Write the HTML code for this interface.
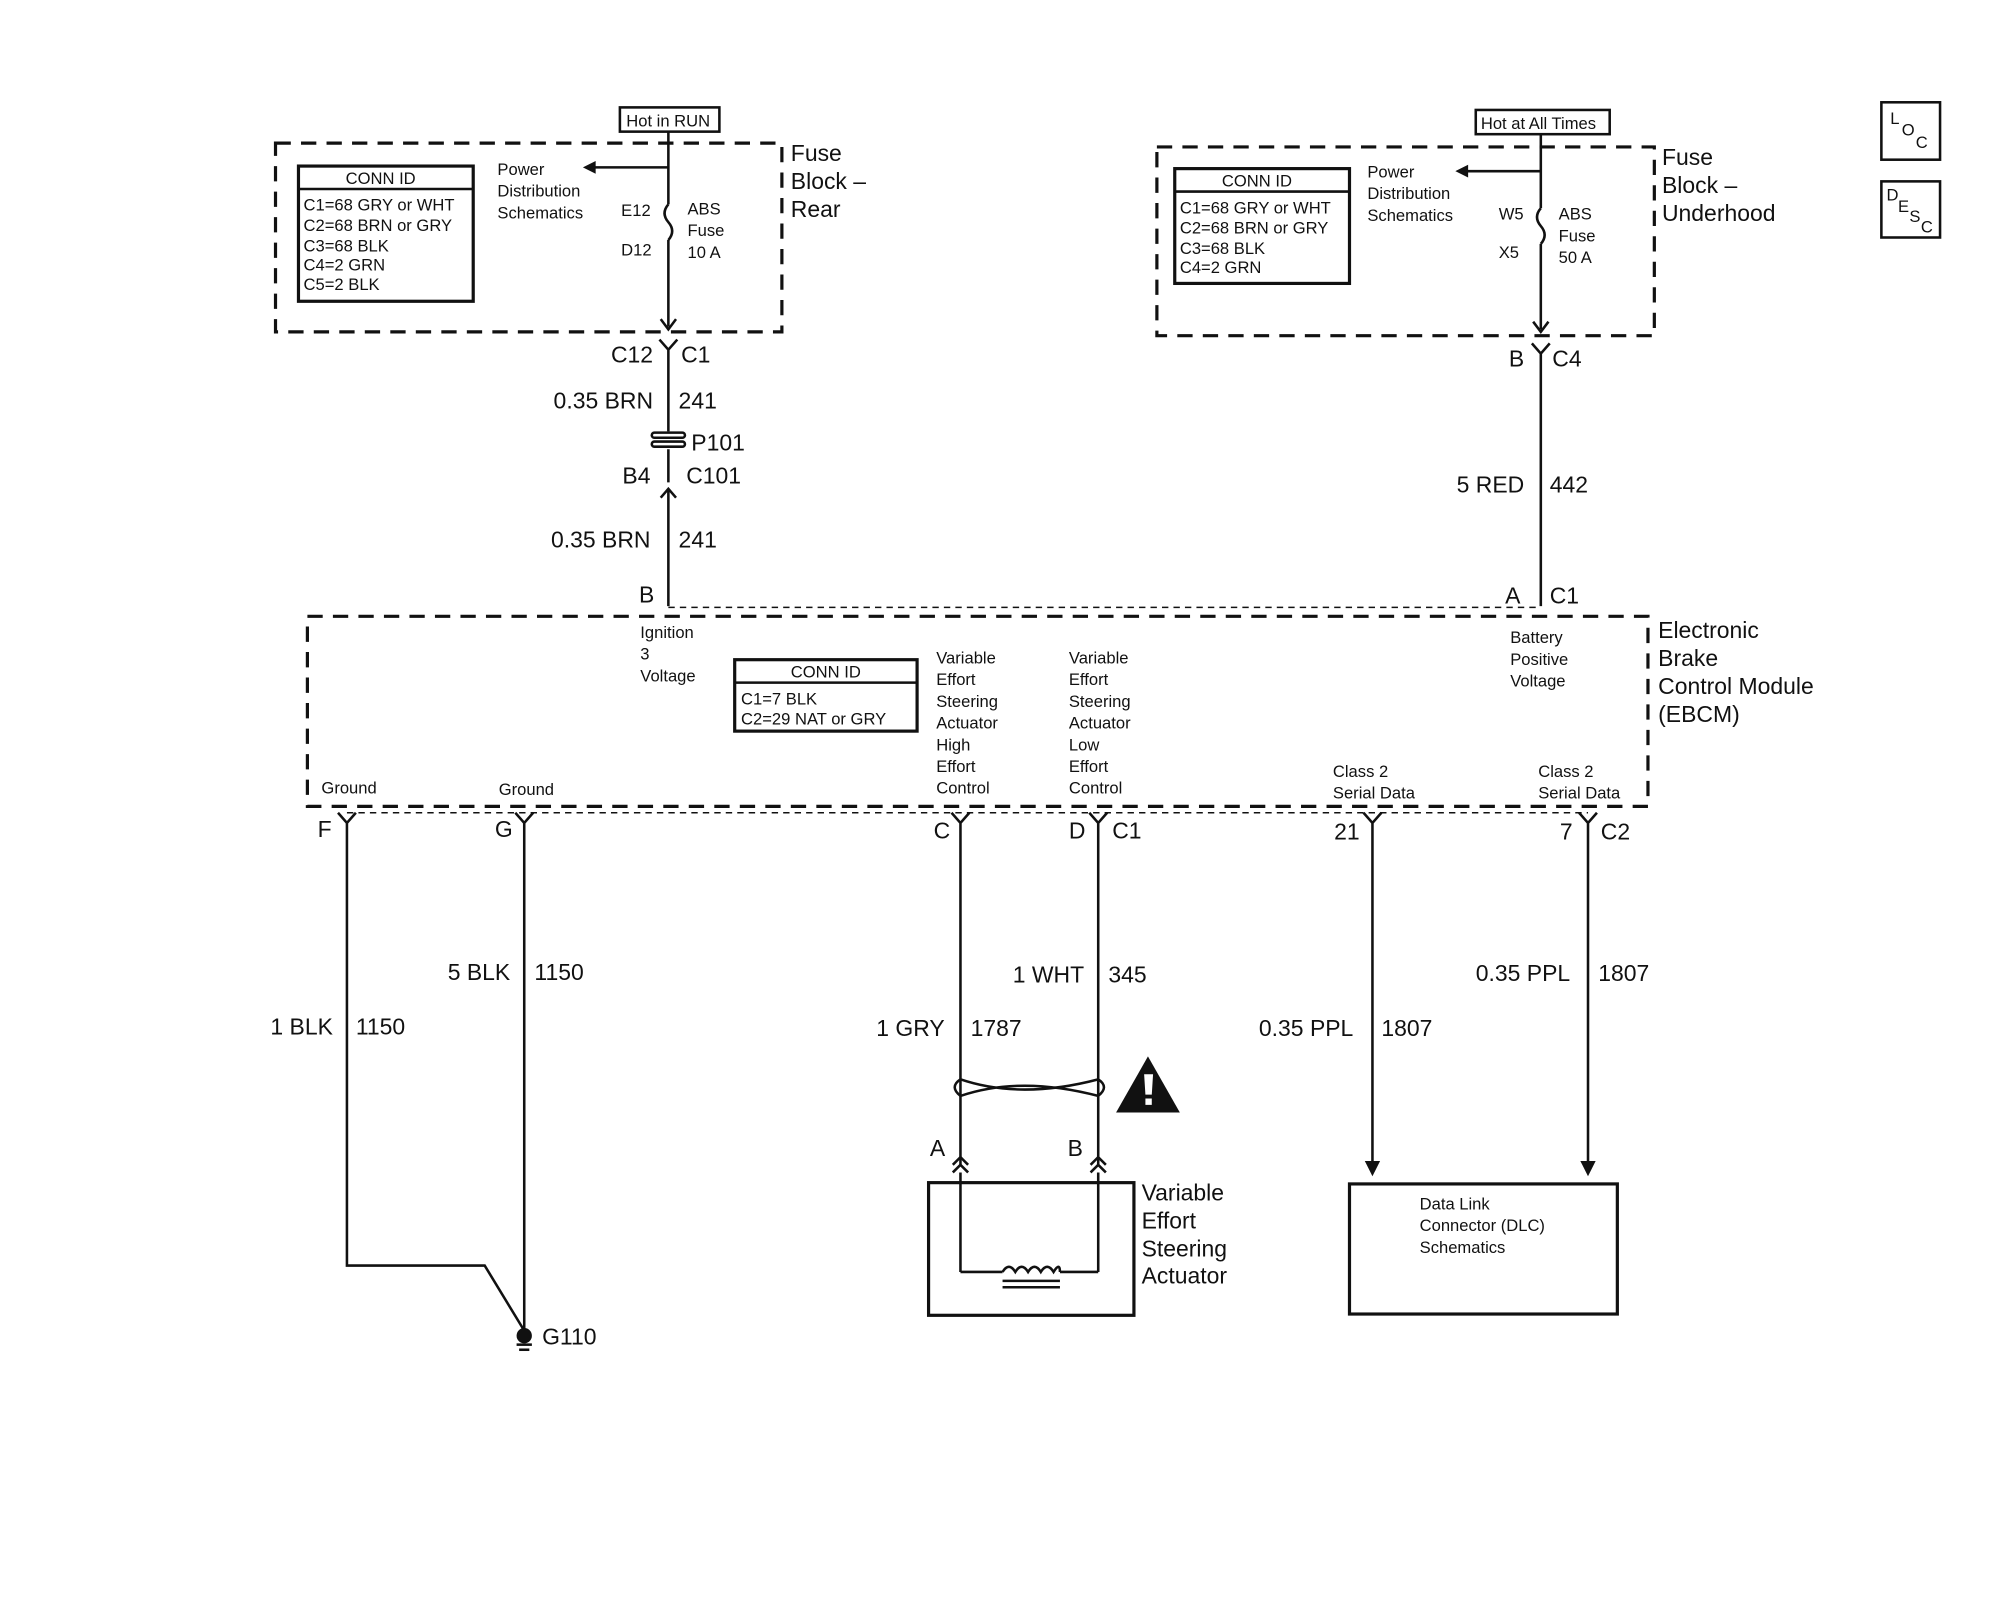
<!DOCTYPE html>
<html><head><meta charset="utf-8"><style>
html,body{margin:0;padding:0;background:#fff}
svg{display:block}
text{font-family:"Liberation Sans",Arial,sans-serif;fill:#111}
.s{font-size:13px}
.m{font-size:18px}
.l{font-size:19px}
</style></head><body>
<svg width="2000" height="1600" viewBox="0 0 1568 1254" xmlns="http://www.w3.org/2000/svg">
<g fill="none" stroke="#111" stroke-width="2">
<rect x="216" y="112" width="397" height="148" stroke-dasharray="12,8" stroke-width="2.5"/>
<rect x="907" y="115" width="390" height="148" stroke-dasharray="12,8" stroke-width="2.5"/>
<rect x="241" y="483" width="1051" height="149" stroke-dasharray="12,8" stroke-width="2.5"/>
<line x1="524" y1="476" x2="1208" y2="476" stroke-dasharray="5,4" stroke-width="1.2"/>
<line x1="272" y1="637" x2="1245" y2="637" stroke-dasharray="5,4" stroke-width="1.2"/>
<rect x="486" y="84" width="78" height="19"/>
<rect x="1157" y="86" width="105" height="19"/>
<rect x="234" y="130" width="137" height="106" stroke-width="2.5"/>
<line x1="234" y1="148" x2="371" y2="148"/>
<rect x="921" y="132" width="137" height="90" stroke-width="2.5"/>
<line x1="921" y1="150" x2="1058" y2="150"/>
<rect x="576" y="517" width="143" height="56" stroke-width="2.5"/>
<line x1="576" y1="535" x2="719" y2="535"/>
<line x1="524" y1="103" x2="524" y2="160"/>
<path d="M524 160 q-6 7 0 14 q6 7 0 14"/>
<line x1="524" y1="188" x2="524" y2="256"/>
<line x1="524" y1="131" x2="466" y2="131"/>
<path d="M518 250 l6 8 l6 -8"/>
<path d="M517 266 l7 8 l7 -8 M524 274 v64 M524 352 v26"/>
<rect x="511" y="339" width="26" height="4" rx="2"/><rect x="511" y="346" width="26" height="4" rx="2"/>
<path d="M518 390 l6 -7 l6 7 M524 383 v92"/>
<line x1="1208" y1="105" x2="1208" y2="163"/>
<path d="M1208 163 q-6 7 0 14 q6 7 0 14"/>
<line x1="1208" y1="191" x2="1208" y2="258"/>
<line x1="1208" y1="134" x2="1150" y2="134"/>
<path d="M1202 252 l6 8 l6 -8"/>
<path d="M1201 269 l7 8 l7 -8 M1208 277 v198"/>
<path d="M265 637 l7 8 l7 -8 M272 645 v347 h108 l31 51"/>
<path d="M404 637 l7 8 l7 -8 M411 645 v398"/>
<path d="M746 637 l7 8 l7 -8 M753 645 v268"/>
<path d="M854 637 l7 8 l7 -8 M861 645 v268"/>
<path d="M1069 637 l7 8 l7 -8 M1076 645 v265"/>
<path d="M1238 637 l7 8 l7 -8 M1245 645 v265"/>
<path d="M753 846 Q800 862 861 846 Q870 852 861 859 Q800 843 753 859 Q744 852 753 846 Z"/>
<path d="M747 913 l6 -6 l6 6 M747 919 l6 -6 l6 6 M855 913 l6 -6 l6 6 M855 919 l6 -6 l6 6"/>
<line x1="753" y1="919" x2="753" y2="997"/><line x1="861" y1="919" x2="861" y2="997"/>
<path d="M753 997 h33 M831 997 h30 M786 997 q5 -8 10 0 q5 -8 10 0 q5 -8 10 0 q5 -8 10 0 q5 -8 5 0"/>
<line x1="786" y1="1004" x2="831" y2="1004"/><line x1="786" y1="1009" x2="831" y2="1009"/>
<rect x="728" y="927" width="161" height="104" stroke-width="2.5"/>
<rect x="1058" y="928" width="210" height="102" stroke-width="2.5"/>
<line x1="405" y1="1054" x2="417" y2="1054"/><line x1="407" y1="1058" x2="415" y2="1058"/>
<rect x="1475" y="80" width="46" height="45"/>
<rect x="1475" y="142" width="46" height="44"/>
</g>
<g fill="#111">
<path d="M457 131 l10 -5 v10z"/><path d="M1141 134 l10 -5 v10z"/>
<path d="M1070 910 l6 12 l6 -12z"/><path d="M1239 910 l6 12 l6 -12z"/>
<circle cx="411" cy="1047" r="6"/>
<path d="M900 828 l25 44 h-50z"/>
</g>
<path d="M897 842 h7 l-1 16 h-5z M898 861 h5 v5 h-5z" fill="#fff"/>
<g class="s">
<text x="491" y="99">Hot in RUN</text>
<text x="1161" y="101">Hot at All Times</text>
<text x="271" y="144">CONN ID</text>
<text x="238" y="165">C1=68 GRY or WHT</text>
<text x="238" y="181">C2=68 BRN or GRY</text>
<text x="238" y="197">C3=68 BLK</text>
<text x="238" y="212">C4=2 GRN</text>
<text x="238" y="227">C5=2 BLK</text>
<text x="958" y="146">CONN ID</text>
<text x="925" y="167">C1=68 GRY or WHT</text>
<text x="925" y="183">C2=68 BRN or GRY</text>
<text x="925" y="199">C3=68 BLK</text>
<text x="925" y="214">C4=2 GRN</text>
<text x="620" y="531">CONN ID</text>
<text x="581" y="552">C1=7 BLK</text>
<text x="581" y="568">C2=29 NAT or GRY</text>
<text x="390" y="137">Power</text><text x="390" y="154">Distribution</text><text x="390" y="171">Schematics</text>
<text x="1072" y="139">Power</text><text x="1072" y="156">Distribution</text><text x="1072" y="173">Schematics</text>
<text x="487" y="169">E12</text><text x="487" y="200">D12</text>
<text x="539" y="168">ABS</text><text x="539" y="185">Fuse</text><text x="539" y="202">10 A</text>
<text x="1175" y="172">W5</text><text x="1175" y="202">X5</text>
<text x="1222" y="172">ABS</text><text x="1222" y="189">Fuse</text><text x="1222" y="206">50 A</text>
<text x="502" y="500">Ignition</text><text x="502" y="517">3</text><text x="502" y="534">Voltage</text>
<text x="1184" y="504">Battery</text><text x="1184" y="521">Positive</text><text x="1184" y="538">Voltage</text>
<text x="734" y="520">Variable</text><text x="734" y="537">Effort</text><text x="734" y="554">Steering</text><text x="734" y="571">Actuator</text><text x="734" y="588">High</text><text x="734" y="605">Effort</text><text x="734" y="622">Control</text>
<text x="838" y="520">Variable</text><text x="838" y="537">Effort</text><text x="838" y="554">Steering</text><text x="838" y="571">Actuator</text><text x="838" y="588">Low</text><text x="838" y="605">Effort</text><text x="838" y="622">Control</text>
<text x="252" y="622">Ground</text><text x="391" y="623">Ground</text>
<text x="1045" y="609">Class 2</text><text x="1045" y="626">Serial Data</text>
<text x="1206" y="609">Class 2</text><text x="1206" y="626">Serial Data</text>
<text x="1113" y="948">Data Link</text><text x="1113" y="965">Connector (DLC)</text><text x="1113" y="982">Schematics</text>
<text x="1482" y="97">L</text><text x="1491" y="106">O</text><text x="1502" y="116">C</text>
<text x="1479" y="157">D</text><text x="1488" y="166">E</text><text x="1497" y="174">S</text><text x="1506" y="182">C</text>
</g>
<g class="m">
<text x="620" y="126">Fuse</text><text x="620" y="148">Block –</text><text x="620" y="170">Rear</text>
<text x="1303" y="129">Fuse</text><text x="1303" y="151">Block –</text><text x="1303" y="173">Underhood</text>
<text x="1300" y="500">Electronic</text><text x="1300" y="522">Brake</text><text x="1300" y="544">Control Module</text><text x="1300" y="566">(EBCM)</text>
<text x="895" y="941">Variable</text><text x="895" y="963">Effort</text><text x="895" y="985">Steering</text><text x="895" y="1006">Actuator</text>
<text x="479" y="284">C12</text><text x="534" y="284">C1</text>
<text x="434" y="320">0.35 BRN</text><text x="532" y="320">241</text>
<text x="542" y="353">P101</text>
<text x="488" y="379">B4</text><text x="538" y="379">C101</text>
<text x="432" y="429">0.35 BRN</text><text x="532" y="429">241</text>
<text x="501" y="472">B</text>
<text x="1183" y="287">B</text><text x="1217" y="287">C4</text>
<text x="1142" y="386">5 RED</text><text x="1215" y="386">442</text>
<text x="1180" y="473">A</text><text x="1215" y="473">C1</text>
<text x="249" y="656">F</text><text x="388" y="656">G</text><text x="732" y="657">C</text><text x="838" y="657">D</text><text x="872" y="657">C1</text>
<text x="1046" y="658">21</text><text x="1223" y="658">7</text><text x="1255" y="658">C2</text>
<text x="212" y="811">1 BLK</text><text x="279" y="811">1150</text>
<text x="351" y="768">5 BLK</text><text x="419" y="768">1150</text>
<text x="687" y="812">1 GRY</text><text x="761" y="812">1787</text>
<text x="794" y="770">1 WHT</text><text x="869" y="770">345</text>
<text x="987" y="812">0.35 PPL</text><text x="1083" y="812">1807</text>
<text x="1157" y="769">0.35 PPL</text><text x="1253" y="769">1807</text>
<text x="729" y="906">A</text><text x="837" y="906">B</text>
<text x="425" y="1054">G110</text>
</g>
</svg>
</body></html>
